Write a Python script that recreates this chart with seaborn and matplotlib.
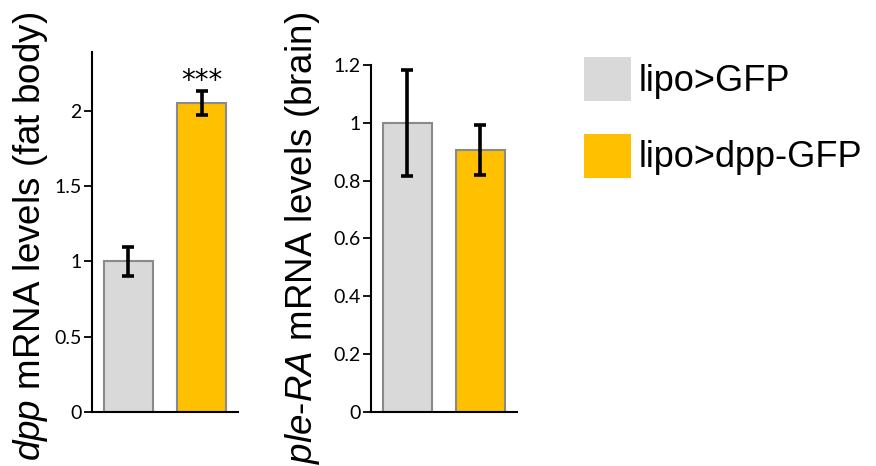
import matplotlib
matplotlib.use("Agg")
import matplotlib.pyplot as plt
from matplotlib.patches import Patch
import seaborn as sns
import pandas as pd

# data
groups = ["lipo>GFP", "lipo>dpp-GFP"]
colors = ["#D9D9D9", "#FFC000"]

dpp_fat_body = [1.00, 2.05]
dpp_fat_body_err = [0.097, 0.08]

ple_brain = [1.00, 0.906]
ple_brain_err = [0.183, 0.085]

sns.set_style("ticks")
plt.rcParams['font.family'] = ['Liberation Sans', 'DejaVu Sans']
plt.rcParams['text.color'] = 'black'
plt.rcParams['mathtext.fontset'] = 'custom'
plt.rcParams['mathtext.rm'] = 'Liberation Sans'
plt.rcParams['mathtext.it'] = 'Liberation Sans:italic'

fig = plt.figure(figsize=(8.76, 4.66), dpi=100)
ax1 = fig.add_axes([0.1050, 0.1159, 0.1667, 0.7725])
ax2 = fig.add_axes([0.4232, 0.1165, 0.1667, 0.7440])


def draw_panel(ax, vals, errs, ymax, yticks, ticklabels):
    df = pd.DataFrame({"group": groups, "value": vals})
    sns.barplot(data=df, x="group", y="value", hue="group", palette=colors,
                saturation=1, width=0.67, edgecolor="#8a8a8a", linewidth=1.5,
                legend=False, ax=ax)
    ax.errorbar(x=[0, 1], y=vals, yerr=errs, fmt="none", ecolor="black",
                elinewidth=2.6, capsize=4, capthick=2.6, zorder=5)
    ax.set_xlim(-0.5, 1.5)
    ax.set_ylim(0, ymax)
    ax.set_yticks(yticks)
    ax.set_yticklabels(ticklabels, fontfamily="Lato", fontsize=14)
    ax.set_xticks([])
    ax.set_xlabel("")
    ax.set_ylabel("")
    for s in ["top", "right"]:
        ax.spines[s].set_visible(False)
    for s in ["left", "bottom"]:
        ax.spines[s].set_linewidth(1.5)
        ax.spines[s].set_color("black")
    ax.tick_params(axis="y", length=5.8, width=1.3, pad=1.5, colors="black")


draw_panel(ax1, dpp_fat_body, dpp_fat_body_err, 2.39,
           [0, 0.5, 1, 1.5, 2], ["0", "0.5", "1", "1.5", "2"])
ax1.text(1, 2.2, "***", ha="center", va="center", fontsize=20,
         fontfamily="DejaVu Sans", color="black")

draw_panel(ax2, ple_brain, ple_brain_err, 1.2,
           [0, 0.2, 0.4, 0.6, 0.8, 1, 1.2],
           ["0", "0.2", "0.4", "0.6", "0.8", "1", "1.2"])

fig.text(31 / 876, 1 - 236 / 466, r"$\it{dpp}$ mRNA levels (fat body)",
         rotation=90, ha="center", va="center", fontsize=26.5)
fig.text(303 / 876, 1 - 238 / 466, r"$\it{ple}$-$\it{RA}$ mRNA levels (brain)",
         rotation=90, ha="center", va="center", fontsize=26.5)

handles = [Patch(facecolor=c, edgecolor="none") for c in colors]
fig.legend(handles=handles, labels=groups, loc="upper left",
           bbox_to_anchor=(584 / 876, 1 - 57 / 466), frameon=False,
           fontsize=26, handlelength=1.3, handleheight=1.5,
           handletextpad=0.2, labelspacing=0.9, borderpad=0,
           borderaxespad=0)

fig.savefig("out.png", dpi=100)
